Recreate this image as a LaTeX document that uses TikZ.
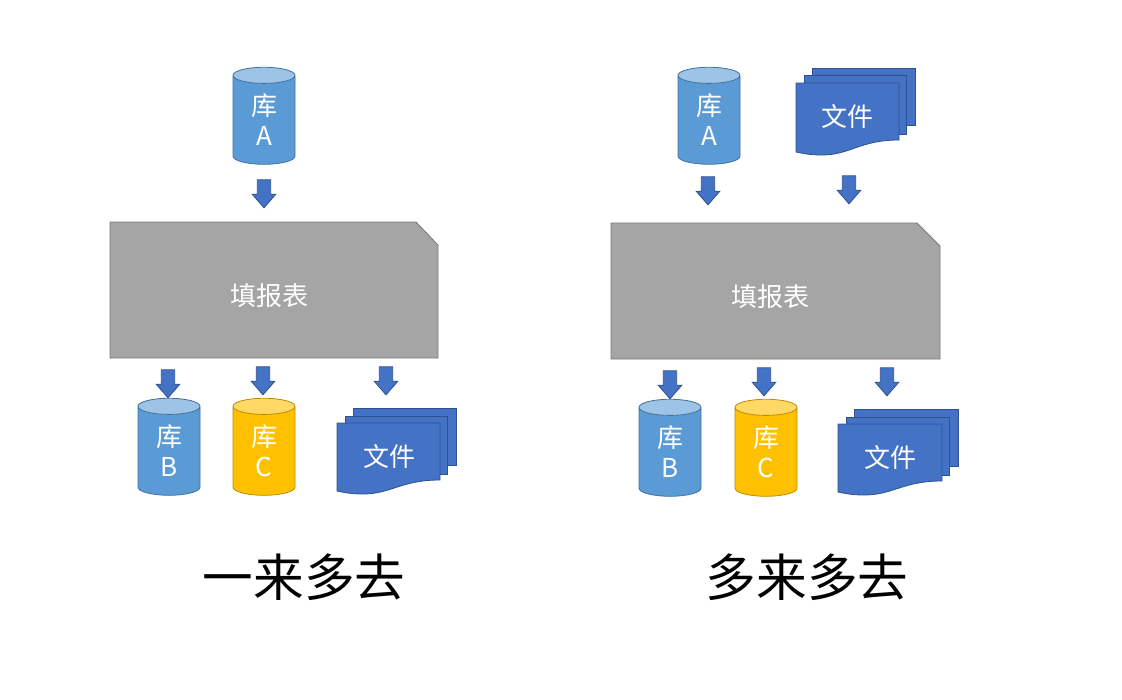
\documentclass[tikz,border=0pt]{standalone}
\usepackage{fontspec}
\setmainfont{Noto Sans CJK SC}
\usetikzlibrary{shapes.geometric,shapes.arrows}
\definecolor{dbblue}{HTML}{5B9BD5}
\definecolor{dbbluetop}{HTML}{9DC3E6}
\definecolor{dbblueline}{HTML}{41719C}
\definecolor{dbyellow}{HTML}{FFC000}
\definecolor{dbyellowtop}{HTML}{FFD966}
\definecolor{dbyellowline}{HTML}{BC8C00}
\definecolor{docblue}{HTML}{4472C4}
\definecolor{docline}{HTML}{2F528F}
\definecolor{formgray}{HTML}{A5A5A5}
\definecolor{formline}{HTML}{787878}
\tikzset{
  dbnode/.style={cylinder,shape border rotate=90,draw,cylinder uses custom fill,aspect=0.62,
    minimum width=46.5pt,minimum height=72.75pt,inner sep=0pt,text=white,align=center,
    font=\fontsize{19.5}{22.5}\selectfont,line width=0.6pt},
  dbblue/.style={dbnode,draw=dbblueline,cylinder body fill=dbblue,cylinder end fill=dbbluetop},
  dbyellow/.style={dbnode,draw=dbyellowline,cylinder body fill=dbyellow,cylinder end fill=dbyellowtop},
  downarrow/.style={single arrow,draw=docline,fill=docblue,rotate=-90,minimum height=21pt,
    single arrow head extend=3.9pt,single arrow tip angle=82,
    single arrow head indent=0pt,inner xsep=0pt,inner ysep=4.7pt,line width=0.6pt},
  docshape/.style={draw=docline,fill=docblue,line width=0.6pt},
  formshape/.style={draw=formline,fill=formgray,line width=0.6pt},
  whitelabel/.style={text=white,font=\fontsize{19.5}{22.5}\selectfont},
  titlelabel/.style={font=\fontsize{38}{44}\selectfont}
}
\begin{document}
\begin{tikzpicture}[x=0.75pt,y=-0.75pt]
\useasboundingbox (0,0) rectangle (1122,700);

% left side
\node[dbblue] (dbAL) at (264,120) {库\\A};
\node[downarrow] (arrAL) at (264,190) {};

\draw[formshape] (110,222) -- (416,222) -- (438,245) -- (438,358) -- (110,358) -- cycle;
\node[whitelabel] (formL) at (269,296) {填报表};

\node[downarrow] (arrBL) at (168,380) {};
\node[downarrow] (arrCL) at (263,377) {};
\node[downarrow] (arrDL) at (386,377) {};

\node[dbblue] (dbBL) at (169,451) {库\\B};
\node[dbyellow] (dbCL) at (264,451) {库\\C};

\draw[docshape] (353,408) rectangle (456.5,465);
\draw[docshape] (345,416) rectangle (447.5,474);
\draw[docshape] (337,423) -- (440,423) -- (440,480) .. controls (401,480) and (391,494) .. (363,494) .. controls (353,494) and (346,493) .. (337,491) -- cycle;
\node[whitelabel] (docL) at (389,457) {文件};

\node[titlelabel] (titleL) at (304,577) {一来多去};

% right side
\node[dbblue] (dbAR) at (709,120) {库\\A};
\draw[docshape] (812,68) rectangle (915.5,125);
\draw[docshape] (804,75) rectangle (906.5,134);
\draw[docshape] (796,83) -- (899,83) -- (899,140) .. controls (860,140) and (850,155) .. (822,155) .. controls (812,155) and (805,154) .. (796,152) -- cycle;
\node[whitelabel] (docTR) at (847,117) {文件};

\node[downarrow] (arrAR) at (708,187) {};
\node[downarrow] (arrFR) at (849,186) {};

\draw[formshape] (611,223) -- (917,223) -- (940,246) -- (940,359) -- (611,359) -- cycle;
\node[whitelabel] (formR) at (770,297) {填报表};

\node[downarrow] (arrBR) at (670,381) {};
\node[downarrow] (arrCR) at (764,378) {};
\node[downarrow] (arrDR) at (887,378) {};

\node[dbblue] (dbBR) at (670,452) {库\\B};
\node[dbyellow] (dbCR) at (766,452) {库\\C};

\draw[docshape] (854,409) rectangle (958.5,466);
\draw[docshape] (846,417) rectangle (949.5,475);
\draw[docshape] (838,424) -- (942,424) -- (942,481) .. controls (903,481) and (893,495) .. (864,495) .. controls (854,495) and (847,494) .. (838,492) -- cycle;
\node[whitelabel] (docR) at (890,458) {文件};

\node[titlelabel] (titleR) at (807,577) {多来多去};
\end{tikzpicture}
\end{document}
